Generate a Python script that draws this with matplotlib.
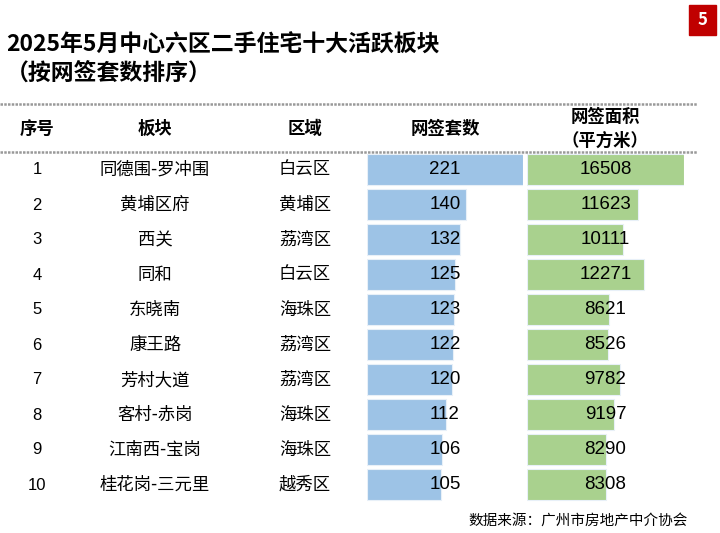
import matplotlib.pyplot as plt
from matplotlib.patches import Rectangle

plt.rcParams['font.family'] = ['Noto Sans CJK SC', 'DejaVu Sans']

ranks = ["1", "2", "3", "4", "5", "6", "7", "8", "9", "10"]
areas = ["同德围-罗冲围", "黄埔区府", "西关", "同和", "东晓南", "康王路", "芳村大道", "客村-赤岗", "江南西-宝岗", "桂花岗-三元里"]
districts = ["白云区", "黄埔区", "荔湾区", "白云区", "海珠区", "荔湾区", "荔湾区", "海珠区", "海珠区", "越秀区"]
units = [221, 140, 132, 125, 123, 122, 120, 112, 106, 105]
sqm = [16508, 11623, 10111, 12271, 8621, 8526, 9782, 9197, 8290, 8308]

W, H = 720, 533
fig = plt.figure(figsize=(7.2, 5.33), dpi=100)
ax = fig.add_axes([0, 0, 1, 1])
ax.set_xlim(0, W)
ax.set_ylim(H, 0)
ax.axis('off')

ax.text(6, 45, "2025年5月中心六区二手住宅十大活跃板块", fontsize=16.5, fontweight='bold', va='center')
ax.text(6, 73, "（按网签套数排序）", fontsize=16.5, fontweight='bold', va='center')
ax.add_patch(Rectangle((689, 5), 27, 30, color='#c00000'))
ax.text(702.5, 20, "5", color='white', fontsize=12, fontweight='bold', ha='center', va='center')

for y in (104, 152):
    ax.plot([0, 697], [y, y], color='#999999', lw=1.8, ls=(0, (1, 0.5)))

hx = [37, 155, 305, 445, 605]
for x, t in zip(hx[:4], ["序号", "板块", "区域", "网签套数"]):
    ax.text(x, 129, t, fontsize=12.5, fontweight='bold', ha='center', va='center')
ax.text(605, 117, "网签面积", fontsize=12.5, fontweight='bold', ha='center', va='center')
ax.text(605, 141, "（平方米）", fontsize=12.5, fontweight='bold', ha='center', va='center')

y0, dy = 170, 35
for i in range(len(ranks)):
    y = y0 + dy * i
    ax.text(37, y, ranks[i], fontsize=12, ha='center', va='center', family='Liberation Sans')
    ax.text(155, y, areas[i], fontsize=12.5, ha='center', va='center')
    ax.text(305, y, districts[i], fontsize=12.5, ha='center', va='center')

top, bottom = 152, 152 + dy * 10
def bar_axes(x0, x1, vals, color, vmax):
    b = fig.add_axes([x0 / W, 1 - bottom / H, (x1 - x0) / W, (bottom - top) / H])
    pos = list(range(len(vals)))
    b.barh(pos, vals, height=0.86, color=color, edgecolor='#e8f0f8', lw=0.8)
    b.set_xlim(0, vmax)
    b.set_ylim(len(vals) - 0.5, -0.5)
    b.axis('off')
    b.patch.set_alpha(0)
    for p, v in zip(pos, vals):
        b.text(vmax / 2, p, str(v), fontsize=13.5, ha='center', va='center', family='Liberation Sans')

bar_axes(367, 523, units, '#9dc3e6', 221)
bar_axes(527, 684, sqm, '#a9d18e', 16508)

ax.text(688, 521, "数据来源：广州市房地产中介协会", fontsize=10.5, ha='right', va='center')

fig.savefig("out.png", dpi=100)
